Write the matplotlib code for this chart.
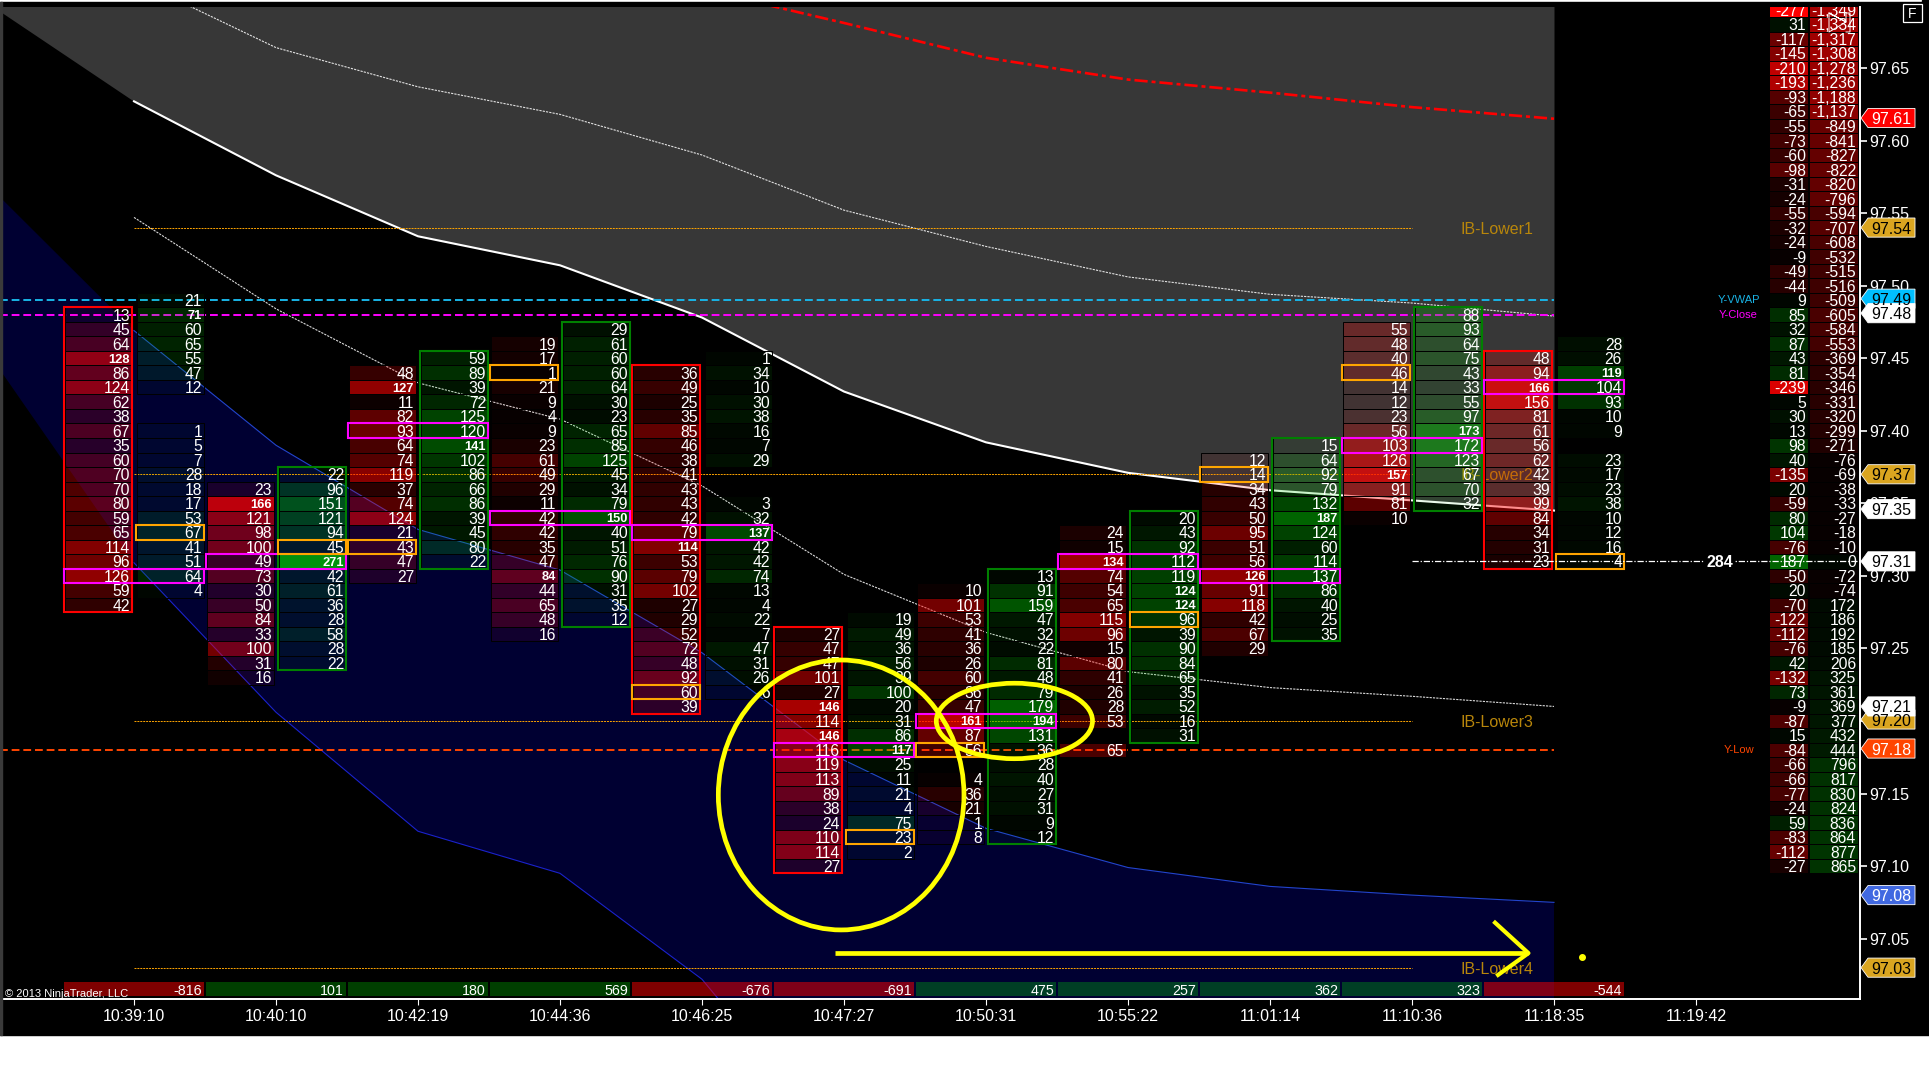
import matplotlib
matplotlib.use("Agg")
import matplotlib.pyplot as plt
from matplotlib.patches import Rectangle, Ellipse, Polygon
from matplotlib.lines import Line2D
from matplotlib.transforms import blended_transform_factory

plt.rcParams['font.family'] = ['Liberation Sans', 'DejaVu Sans']
NARROW = ['Liberation Sans Narrow', 'Liberation Sans', 'DejaVu Sans']

# footprint data, one list per bar, read top row downwards (None = empty row)
times = ['10:39:10', '10:40:10', '10:42:19', '10:44:36', '10:46:25', '10:47:27',
         '10:50:31', '10:55:22', '11:01:14', '11:10:36', '11:18:35', '11:19:42']
bar_delta = [-816, 101, 180, 569, -676, -691, 475, 257, 362, 323, -544]

bid_top = [97.48, 97.36, 97.44, 97.46, 97.44, 97.26, 97.29, 97.33, 97.38, 97.47, 97.45]
ask_top = [97.49, 97.37, 97.45, 97.47, 97.45, 97.27, 97.30, 97.34, 97.39, 97.48, 97.46]

bids = [
    [13, 45, 64, 128, 86, 124, 62, 38, 67, 35, 60, 70, 70, 80, 59, 65, 114, 96, 126, 59, 42],
    [23, 166, 121, 98, 100, 49, 73, 30, 50, 84, 33, 100, 31, 16],
    [48, 127, 11, 82, 93, 64, 74, 119, 37, 74, 124, 21, 43, 47, 27],
    [19, 17, 1, 21, 9, 4, 9, 23, 61, 49, 29, 11, 42, 42, 35, 47, 84, 44, 65, 48, 16],
    [36, 49, 25, 35, 85, 46, 38, 41, 43, 43, 42, 79, 114, 53, 79, 102, 27, 29, 52, 72, 48, 92, 60, 39],
    [27, 47, 47, 101, 27, 146, 114, 146, 116, 119, 113, 89, 38, 24, 110, 114, 27],
    [10, 101, 53, 41, 36, 26, 60, 36, 47, 161, 87, 56, None, 4, 36, 21, 1, 8],
    [24, 15, 134, 74, 54, 65, 115, 96, 15, 80, 41, 26, 28, 53, None, 65],
    [12, 14, 34, 43, 50, 95, 51, 56, 126, 91, 118, 42, 67, 29],
    [55, 48, 40, 46, 14, 12, 23, 56, 103, 126, 157, 91, 81, 10],
    [48, 94, 166, 156, 81, 61, 56, 62, 42, 39, 99, 84, 34, 31, 23],
]
asks = [
    [21, 71, 60, 65, 55, 47, 12, None, None, 1, 5, 7, 28, 18, 17, 53, 67, 41, 51, 64, 4],
    [22, 96, 151, 121, 94, 45, 271, 42, 61, 36, 28, 58, 28, 22],
    [59, 89, 39, 72, 125, 120, 141, 102, 86, 66, 86, 39, 45, 80, 22],
    [29, 61, 60, 60, 64, 30, 23, 65, 85, 125, 45, 34, 79, 150, 40, 51, 76, 90, 31, 35, 12],
    [1, 34, 10, 30, 38, 16, 7, 29, None, None, 3, 32, 137, 42, 42, 74, 13, 4, 22, 7, 47, 31, 26, 6],
    [19, 49, 36, 56, 39, 100, 20, 31, 86, 117, 25, 11, 21, 4, 75, 23, 2],
    [13, 91, 159, 47, 32, 22, 81, 48, 79, 179, 194, 131, 36, 28, 40, 27, 31, 9, 12],
    [20, 43, 92, 112, 119, 124, 124, 96, 39, 90, 84, 65, 35, 52, 16, 31],
    [15, 64, 92, 79, 132, 187, 124, 60, 114, 137, 86, 40, 25, 35],
    [88, 93, 64, 75, 43, 33, 55, 97, 173, 172, 123, 67, 70, 32],
    [28, 26, 119, 104, 93, 10, 9, None, 23, 17, 23, 38, 10, 12, 16, 4],
]

poc_price = [97.30, 97.31, 97.40, 97.34, 97.33, 97.18, 97.20, 97.31, 97.30, 97.39, 97.43]
# orange cell of each bar: side (0 bid, 1 ask) and price
orange_side = [1, 1, 0, 0, 0, 1, 0, 1, 0, 0, 1]
orange_price = [97.33, 97.32, 97.32, 97.44, 97.22, 97.12, 97.18, 97.27, 97.37, 97.44, 97.31]

# right hand ladder, 97.69 downwards
ladder_top = 97.69
ladder_delta = [-277, 31, -117, -145, -210, -193, -93, -65, -55, -73, -60, -98, -31, -24, -55,
                -32, -24, -9, -49, -44, 9, 85, 32, 87, 43, 81, -239, 5, 30, 13, 98, 40, -135,
                20, -59, 80, 104, -76, 187, -50, 20, -70, -122, -112, -76, 42, -132, 73, -9,
                -87, 15, -84, -66, -66, -77, -24, 59, -83, -112, -27]
ladder_cum = [-1349, -1334, -1317, -1308, -1278, -1236, -1188, -1137, -849, -841, -827, -822,
              -820, -796, -594, -707, -608, -532, -515, -516, -509, -605, -584, -553, -369,
              -354, -346, -331, -320, -299, -271, -76, -69, -38, -33, -27, -18, -10, 0, -72,
              -74, 172, 186, 192, 185, 206, 325, 361, 369, 377, 432, 444, 796, 817, 830, 824,
              836, 864, 877, 865]

# indicator curves, price at each bar (first value of the band arrays is the left chart edge)
band_x = [-0.944, 0, 1, 2, 3, 4, 5, 6, 7, 8, 9, 10]
gray_ceiling = [97.80] * 12
gray_bot = [97.689, 97.627, 97.576, 97.534, 97.514, 97.478, 97.427, 97.392, 97.371, 97.359, 97.352, 97.345]
top_dotted = [97.711, 97.664, 97.637, 97.618, 97.590, 97.552, 97.527, 97.506, 97.494, 97.488, 97.479]
mid_dotted = [97.547, 97.484, 97.433, 97.408, 97.362, 97.301, 97.261, 97.234, 97.223, 97.217, 97.210]
blue_top = [97.561, 97.469, 97.390, 97.332, 97.304, 97.247, 97.173, 97.126, 97.099, 97.086, 97.080, 97.075]
blue_bot = [97.442, 97.309, 97.206, 97.124, 97.095, 97.022, 96.904, 96.80, 96.80, 96.80, 96.80, 96.80]
red_x = [4, 5, 6, 7, 8, 9, 10]
red_curve = [97.704, 97.681, 97.657, 97.642, 97.633, 97.623, 97.615]

ib_levels = [97.54, 97.37, 97.20, 97.03]
ib_names = ['IB-Lower1', 'IB-Lower2', 'IB-Lower3', 'IB-Lower4']
day_levels = [97.49, 97.48, 97.18]
day_names = ['Y-VWAP', 'Y-Close', 'Y-Low']
day_colors = ['#19b4e6', '#ff00ff', '#ff4500']

tag_text = ['97.61', '97.54', '97.49', '97.48', '97.37', '97.35', '97.31', '97.20', '97.21', '97.18', '97.08', '97.03']
tag_pos = [97.6155, 97.54, 97.491, 97.481, 97.37, 97.346, 97.31, 97.201, 97.21, 97.181, 97.08, 97.03]
tag_fill = ['#ff0000', '#daa520', '#00bfff', '#ffffff', '#daa520', '#ffffff', '#ffffff', '#daa520', '#ffffff', '#ff4500', '#4169e1', '#daa520']
tag_ink = ['white', 'black', 'black', 'black', 'black', 'black', 'black', 'black', 'black', 'white', 'white', 'black']

W, H = 1929, 1079
fig = plt.figure(figsize=(W / 100, H / 100), dpi=100, facecolor='white')
fig.add_artist(Rectangle((0, 1 - 1035 / H), 1, 1033 / H, color='black', transform=fig.transFigure, zorder=-3))
fig.add_artist(Rectangle((1922 / W, 1 - 2 / H), 7 / W, 2 / H, color='black', transform=fig.transFigure, zorder=-3))
fig.add_artist(Rectangle((0, 1 - 1035 / H), 2 / W, 1033 / H, color='#3a3a3a', transform=fig.transFigure, zorder=3))

ax = fig.add_axes([0, (H - 999) / H, 1860 / W, 992 / H], facecolor='black')
ax.set_xlim(-0.9437, 12.155)
ax.set_ylim(97.0084, 97.692)

# background bands
ax.fill_between(band_x, gray_bot, gray_ceiling, color='#373737', lw=0, zorder=1)
ax.fill_between(band_x, blue_bot, blue_top, color='#000032', lw=0, zorder=1)
bars = list(range(11))
ax.plot(bars, gray_bot[1:], color='white', lw=1.5, zorder=2)
ax.plot(bars, top_dotted, color='white', lw=0.8, ls=(0, (2, 1)), alpha=0.85, zorder=2)
ax.plot(bars, mid_dotted, color='white', lw=0.8, ls=(0, (2, 1)), alpha=0.85, zorder=2)
ax.plot(bars, blue_top[1:], color='#2244cc', lw=0.8, zorder=2)
ax.plot(bars, blue_bot[1:], color='#1a22cc', lw=0.8, zorder=2)
ax.plot(red_x, red_curve, color='#ff0000', lw=1.9, ls=(0, (5, 1.5, 1.5, 1.5)), zorder=2)

# horizontal levels
for lvl, name in zip(ib_levels, ib_names):
    ax.plot([0, 9], [lvl, lvl], color='#ffa500', lw=0.7, ls=(0, (2, 1)), zorder=2)
    ax.text(9.6, lvl, name, color='#b8860b', fontsize=11.5, ha='center', va='center_baseline', zorder=2)
for lvl, name, col in zip(day_levels, day_names, day_colors):
    ax.plot([-0.944, 10], [lvl, lvl], color=col, lw=1.4, ls=(0, (4, 2)), zorder=2)
    ax.text(11.3, lvl, name, color=col, fontsize=8, ha='center', va='center')

# cell geometry in bar units
bid_l, bid_r = -0.489, -0.014
ask_l, ask_r = 0.021, 0.493
box_pad = 0.006


def shade(val, side_col, k, top=0.8):
    a = min(top, max(0.03, abs(val) * k))
    return side_col + (a,)


RED = (1.0, 0.0, 0.0)
GREEN = (0.0, 0.78, 0.0)


def draw_col(i, top, vals, left, right, col, k, txt_x):
    big = max(v for v in vals if v is not None)
    for n, v in enumerate(vals):
        if v is None:
            continue
        p = top - n * 0.01
        ax.add_patch(Rectangle((i + left, p - 0.005), right - left, 0.01, fc=shade(v, col, k),
                               ec='black', lw=0.7, zorder=3))
        if v == big:
            ax.text(i + txt_x, p, str(v), color='white', fontsize=9.3, fontweight='bold', family=NARROW,
                    ha='right', va='center_baseline', zorder=6)
        else:
            ax.text(i + txt_x, p, str(v), color='white', fontsize=11.3, family=NARROW,
                    ha='right', va='center_baseline', zorder=6)


for i in range(11):
    draw_col(i, bid_top[i], bids[i], bid_l, bid_r, RED, 0.0045, -0.028)
    draw_col(i, ask_top[i], asks[i], ask_l, ask_r, GREEN, 0.0027, 0.479)

    # red / green outline goes round the side that won the bar
    if bar_delta[i] < 0:
        n = len(bids[i])
        ax.add_patch(Rectangle((i + bid_l - box_pad, bid_top[i] - (n - 1) * 0.01 - 0.005),
                               bid_r - bid_l + box_pad, n * 0.01,
                               fc='none', ec='#ff0000', lw=1.5, zorder=4))
    else:
        n = len(asks[i])
        ax.add_patch(Rectangle((i + ask_l - box_pad, ask_top[i] - (n - 1) * 0.01 - 0.005),
                               ask_r - ask_l + box_pad, n * 0.01,
                               fc='none', ec='#008000', lw=1.5, zorder=4))
    ax.add_patch(Rectangle((i + bid_l - box_pad, poc_price[i] - 0.005), ask_r - bid_l + box_pad, 0.01,
                           fc='none', ec='#ff00ff', lw=1.5, zorder=5))
    l, r = (ask_l, ask_r) if orange_side[i] else (bid_l, bid_r)
    ax.add_patch(Rectangle((i + l - box_pad, orange_price[i] - 0.005), r - l + box_pad, 0.01,
                           fc='none', ec='#ffa500', lw=1.5, zorder=5))

    # bar delta strip at the bottom
    ax.add_patch(Rectangle((i - 0.493, 97.0103), 0.986, 0.0097,
                           fc=(1, 0, 0, 0.5) if bar_delta[i] < 0 else (0, 1, 0, 0.25), lw=0, zorder=3))
    ax.text(i + 0.479, 97.0152, str(bar_delta[i]), color='white', fontsize=10.3,
            ha='right', va='center_baseline', zorder=6)

# right ladder
for n, (d, c) in enumerate(zip(ladder_delta, ladder_cum)):
    p = ladder_top - n * 0.01
    dcol = shade(d, RED, 0.0036, 1.0) if d < 0 else shade(d, GREEN, 0.0027)
    ccol = shade(c, RED, 0.00048) if c < 0 else shade(c, GREEN, 0.0003)
    ax.add_patch(Rectangle((11.514, p - 0.005), 0.275, 0.01, fc=dcol, ec='black', lw=0.7, zorder=3))
    ax.add_patch(Rectangle((11.796, p - 0.005), 0.345, 0.01, fc=ccol, ec='black', lw=0.7, zorder=3))
    ax.text(11.775, p, str(d), color='white', fontsize=11.3, family=NARROW, ha='right',
            va='center_baseline', zorder=6, clip_on=True)
    ax.text(12.127, p, f'{c:,}', color='white', fontsize=11.3, family=NARROW, ha='right',
            va='center_baseline', zorder=6, clip_on=True)

# last price line with the ask-bid text
ax.plot([9.0, 12.155], [97.31, 97.31], color='white', lw=0.9, ls=(0, (5, 1.5, 1, 1.5)), zorder=7)
ax.text(11.17, 97.31, '284', color='white', fontsize=11.5, fontweight='bold', ha='center',
        va='center_baseline', zorder=7, bbox=dict(fc='black', ec='none', pad=1))

# hand drawn yellow marks
YEL = '#ffff00'
ax.add_patch(Ellipse((4.98, 97.149), 1.73, 0.186, fc='none', ec=YEL, lw=3.4, zorder=8))
ax.add_patch(Ellipse((6.2, 97.20), 1.1, 0.052, fc='none', ec=YEL, lw=3.4, zorder=8))
ax.plot([4.94, 9.82], [97.04, 97.04], color=YEL, lw=3.4, zorder=8, solid_capstyle='butt')
ax.plot([9.585, 9.82, 9.606], [97.061, 97.04, 97.025], color=YEL, lw=3, zorder=8)
ax.plot([10.2], [97.037], 'o', color=YEL, ms=4, zorder=8)

# axes
for s in ['top', 'left']:
    ax.spines[s].set_visible(False)
for s in ['right', 'bottom']:
    ax.spines[s].set_color('white')
    ax.spines[s].set_linewidth(1.4)
ax.set_xticks(range(12))
ax.set_xticklabels(times)
ax.set_yticks([97.05 + 0.05 * k for k in range(13)])
ax.set_yticklabels([f'{97.05 + 0.05 * k:.2f}' for k in range(13)])
ax.yaxis.tick_right()
ax.tick_params(axis='x', colors='white', labelsize=11.5, length=4.5, width=0.8, pad=3)
ax.tick_params(axis='y', colors='white', labelsize=11.5, length=5, width=1.2, pad=2)

# price tags hanging off the axis
tr = blended_transform_factory(ax.transAxes, ax.transData)
x0, x1, x2 = 1861 / 1860, 1868 / 1860, 1915 / 1860
hh = 0.0066
for txt, pos, fill, ink in zip(tag_text, tag_pos, tag_fill, tag_ink):
    ax.add_patch(Polygon([(x0, pos), (x1, pos + hh), (x2, pos + hh), (x2, pos - hh), (x1, pos - hh)],
                         closed=True, fc=fill, ec='white', lw=0.6, transform=tr, clip_on=False, zorder=9))
    ax.text((x1 + x2) / 2, pos, txt, color=ink, fontsize=11.5, ha='center', va='center_baseline',
            transform=tr, clip_on=False, zorder=10)

ax.text(-0.905, 97.0125, '\u00a9 2013 NinjaTrader, LLC', color='white', fontsize=8, ha='left',
        va='center_baseline', zorder=7)

# F button and the small window icon
fig.add_artist(Rectangle((1903 / W, 1 - 22 / H), 19 / W, 18 / H, fc='none', ec='white', lw=0.9,
                         transform=fig.transFigure))
fig.text(1912.5 / W, 1 - 13.5 / H, 'F', color='white', fontsize=10, ha='center', va='center')
icon_x = [1829, 1846, 1829, 1829, 1846, 1846, 1850, 1850, 1846]
icon_y = [13, 22, 32, 13, 22, 13, 13, 32, 32]
fig.add_artist(Line2D([v / W for v in icon_x], [1 - v / H for v in icon_y], color='white', lw=0.7,
                      transform=fig.transFigure))

fig.savefig('out.png', dpi=100, facecolor=fig.get_facecolor())
